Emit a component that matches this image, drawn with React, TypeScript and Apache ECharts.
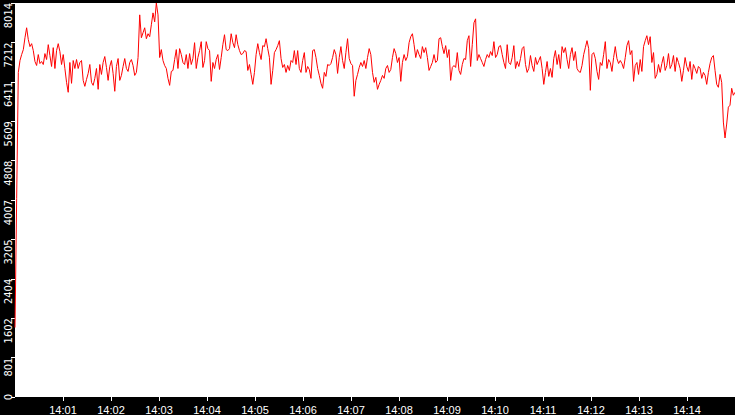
import * as echarts from 'echarts';
import React, { useEffect, useRef } from 'react';

// 14:00 ~ 14:15 구간 값 (약 2초 간격, 그림에서 읽은 값)
const priceValues = [
  1413, 4038, 6602, 6844, 6965, 7066, 7308, 7510, 7268, 7127, 7187, 7046, 6824, 6743, 6965, 6783,
  6824, 6763, 6985, 6864, 7167, 6945, 6723, 7106, 6682, 7046, 7187, 7026, 6763, 6965, 6682, 6400,
  6198, 6804, 6380, 6844, 6682, 6864, 6682, 6804, 6844, 6440, 6319, 6460, 6582, 6763, 6400, 6339,
  6481, 6682, 6258, 6763, 6561, 6804, 6925, 6703, 6440, 6723, 6844, 6582, 6218, 6723, 6884, 6440,
  6541, 6723, 6884, 6682, 6622, 6804, 6864, 6743, 6541, 6602, 6905, 7773, 7308, 7409, 7510, 7288,
  7389, 7329, 7571, 7813, 7631, 8014, 7773, 6905, 7066, 6844, 6743, 6682, 6481, 6339, 6622, 6642,
  6864, 7066, 6682, 7086, 6965, 6804, 6763, 6965, 6682, 6985, 6763, 6884, 7207, 6682, 6905, 7046,
  7228, 6703, 6844, 7228, 7086, 7046, 6420, 6804, 6682, 6864, 6965, 6662, 6905, 7167, 7369, 7066,
  7046, 7086, 7389, 7207, 7106, 7369, 7167, 7046, 6965, 6985, 7046, 7026, 6642, 6763,
  6561, 6359, 6602, 6965, 7187, 7005, 6864, 7147, 7127, 7288, 7086, 6905, 6359, 6642, 7005, 7066,
  7147, 7248, 6884, 6703, 6763, 6602, 6743, 6642, 6844, 6804, 7046, 6763, 7046, 6682, 6602, 6844,
  7005, 6602, 6723, 6662, 6481, 7046, 7066, 6905, 6682, 6541, 6380, 6279, 6602, 6521, 6763, 6743,
  6783, 6905, 7066, 6965, 6582, 6905, 7127, 6844, 6682, 7005, 7288, 6884, 6783, 6743, 6117, 6440,
  6561, 6703, 6804, 6723, 6844, 6682, 6905, 7086,
  6965, 6602, 6400, 6501, 6258, 6359, 6440, 6541, 6481, 6682, 6743, 6602, 6662, 6905, 7086, 6985,
  6804, 6905, 6420, 6804, 6965, 6844, 6925, 7207, 7329, 7389, 7167, 6905, 7066, 6965, 6884, 7127,
  7005, 7106, 6905, 6642,
  6723, 6804, 6965, 6804, 6844, 7288, 7308, 7127, 6985, 7147, 6905, 7066, 6440, 6703, 6743, 6703,
  7005, 6642, 6561, 6763, 6884, 6864, 7248, 7349, 6723, 7167, 7611, 7692, 6844, 6965, 6884, 6804,
  6723, 6864, 6965, 6905, 7026, 6945, 7228, 6905, 6965, 7127, 7147, 6965, 6804, 6682, 7167, 6804,
  6763, 6905, 7147, 6682, 6824, 6723, 6884, 7086, 7127, 6763, 6602, 6682, 6945, 6743, 6622,
  6905, 6763, 6844, 6925, 6682, 6359, 6602, 6824, 6521, 6682, 6501, 6884, 7046, 6763, 6965, 6682,
  7127, 7005, 7106, 6864, 6682, 6965, 7106, 6844, 7026, 6682, 6622, 6602, 6743, 6965, 7106, 7248,
  7086, 6238, 6965, 7005, 6884, 6622, 6460, 6804, 6743, 6965, 7228, 6682, 6864, 6804, 6622, 6905,
  7127, 6884, 6783, 6844, 6783, 6682, 6905, 7147, 7248, 6965, 7046, 6420, 6743, 6804, 6561, 6864,
  6622, 7127, 7248, 7349, 7167, 7329, 6804, 7005, 6481, 6561, 6763, 6602, 6783, 6925, 6642, 6743,
  6985, 6682, 6763, 6945, 6622, 6905, 6804, 6682, 6420, 6642, 6905, 6723, 6622, 6824, 6460, 6763,
  6682, 6582, 6723, 6682, 6481, 6602, 6541, 6359, 6602, 6783, 6905, 6945, 6642, 6359, 6299, 6561,
  6400, 5592, 5269, 5552, 5895, 5935, 6279, 6137, 6198,
];

// x축 눈금 라벨 (분 단위)
const minuteLabels = [
  '14:01', '14:02', '14:03', '14:04', '14:05', '14:06', '14:07',
  '14:08', '14:09', '14:10', '14:11', '14:12', '14:13', '14:14',
];

const valueMax = 8014;
const valueSplits = 10;
const spanSeconds = 900;

export default function App() {
  const chartRef = useRef<HTMLDivElement>(null);

  useEffect(() => {
    if (!chartRef.current) return;

    const chart = echarts.init(chartRef.current, null, { renderer: 'svg' });

    // 인덱스 -> 초 단위 위치
    const step = spanSeconds / (priceValues.length - 1);
    const points = priceValues.map((v, i) => [i * step, v]);
    const minuteTicks = minuteLabels.map((_, i) => (i + 1) * 60);

    chart.setOption({
      animation: false,
      backgroundColor: '#000',
      grid: {
        left: 15,
        right: 0,
        top: 0,
        bottom: 17,
        show: true,
        backgroundColor: '#fff',
        borderWidth: 0,
        containLabel: false,
      },
      xAxis: {
        type: 'value',
        min: 0,
        max: spanSeconds,
        axisLine: { show: false },
        splitLine: { show: false },
        axisTick: {
          show: true,
          length: 4,
          customValues: minuteTicks,
          lineStyle: { color: '#fff', width: 1 },
        },
        axisLabel: {
          color: '#fff',
          fontSize: 11,
          fontFamily: 'Liberation Sans',
          margin: 7,
          customValues: minuteTicks,
          formatter: (v: number) => minuteLabels[Math.round(v / 60) - 1] ?? '',
        },
      },
      yAxis: {
        type: 'value',
        min: 0,
        max: valueMax,
        interval: valueMax / valueSplits,
        axisLine: { show: false },
        splitLine: { show: false },
        axisTick: {
          show: true,
          length: 4,
          lineStyle: { color: '#fff', width: 1 },
        },
        axisLabel: {
          color: '#fff',
          fontSize: 11,
          fontFamily: '"Liberation Sans Narrow", "DejaVu Sans Condensed", "Liberation Sans"',
          rotate: 90,
          align: 'right',
          verticalAlign: 'bottom',
          alignMinLabel: 'center',
          margin: 1,
          showMinLabel: true,
          showMaxLabel: true,
          formatter: (v: number) => String(Math.floor(v + 1e-6)),
        },
      },
      series: [
        {
          type: 'line',
          data: points,
          symbol: 'none',
          silent: true,
          lineStyle: { color: '#ff0000', width: 1 },
        },
      ],
    });

    return () => {
      chart.dispose();
    };
  }, []);

  return (
    <div
      ref={chartRef}
      style={{ position: 'absolute', left: 0, top: 0, width: 735, height: 415 }}
    ></div>
  );
}
